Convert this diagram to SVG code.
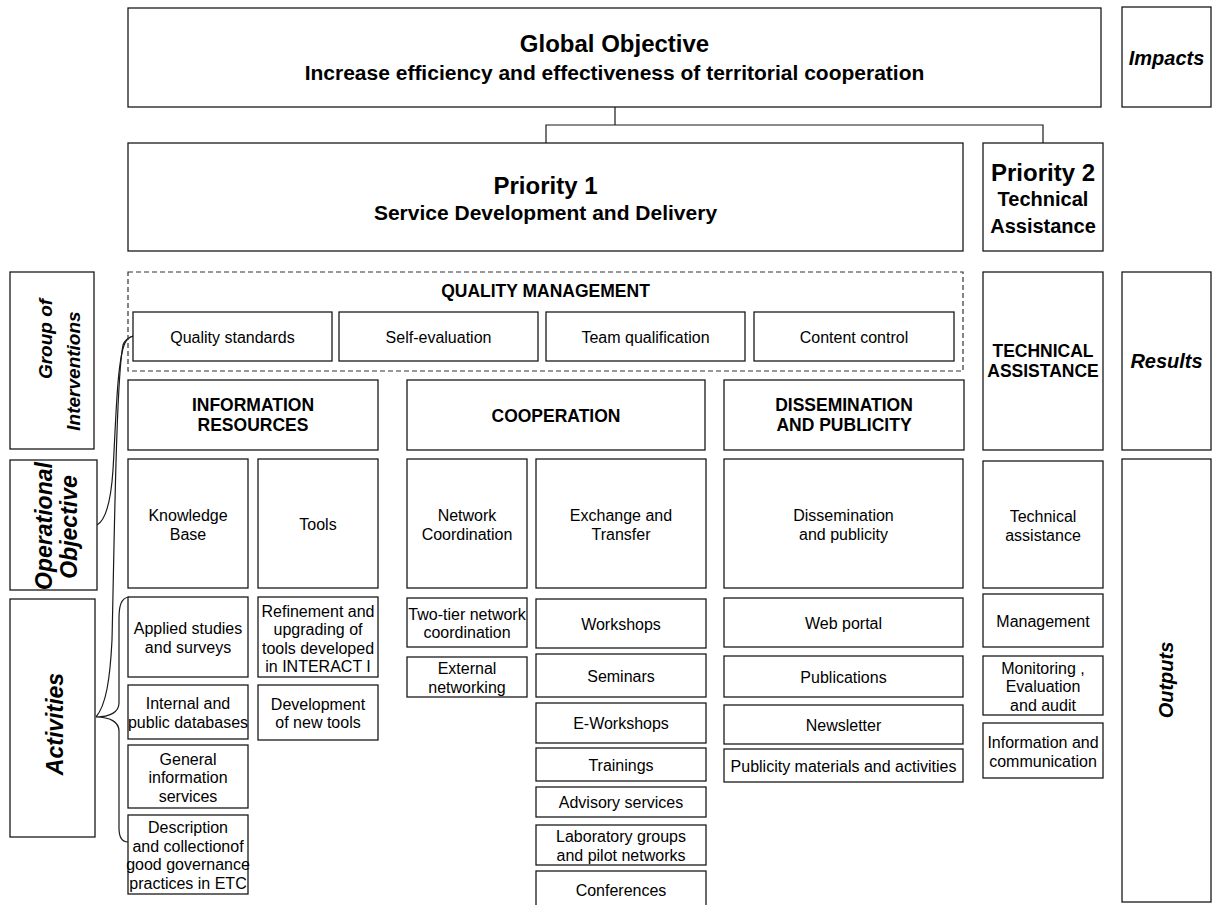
<svg xmlns="http://www.w3.org/2000/svg" width="1215" height="905" viewBox="0 0 1215 905">
<style>
.b{fill:#fff;stroke:#1a1a1a;stroke-width:1.3}
.d{fill:none;stroke:#333;stroke-width:1.2;stroke-dasharray:5,3}
text{font-family:"Liberation Sans",Arial,sans-serif;fill:#000;text-anchor:middle}
.t{font-size:16px}
.h{font-size:17.5px;font-weight:bold}
.l{font-size:20px;font-weight:bold;font-style:italic}
.c{fill:none;stroke:#1a1a1a;stroke-width:1.2}
</style>
<rect width="1215" height="905" fill="#fff"/>
<g id="connectors">
<path class="c" d="M615,107 V125 M546,143 V125 H1043 V143"/>
<path class="c" d="M97,525 C106,520 111,500 113,470 C116,420 117,360 125,343 C127,339 130,337 133,336"/>
<path class="c" d="M96,717 C106,705 110,680 112,640 C114,560 116,380 123,345 C125,339 130,337 133,336"/>
<path class="c" d="M129,597 C121,598 119,606 119,618 L119,703 C119,712 110,717 96,717 C110,717 119,722 119,731 L119,828 C119,837 122,842 128,842"/>
</g>
<g id="global"><rect class="b" x="128" y="8" width="973" height="99"/>
<text x="614.5" y="52" style="font-size:24px;font-weight:bold">Global Objective</text>
<text x="614.5" y="80" style="font-size:21px;font-weight:bold">Increase efficiency and effectiveness of territorial cooperation</text></g>
<g id="impacts"><rect class="b" x="1122" y="7" width="89" height="100"/><text class="l" x="1166.5" y="65">Impacts</text></g>
<g id="priority1"><rect class="b" x="128" y="143" width="835" height="108"/>
<text x="545.5" y="194" style="font-size:24px;font-weight:bold">Priority 1</text>
<text x="545.5" y="220" style="font-size:21px;font-weight:bold">Service Development and Delivery</text></g>
<g id="priority2"><rect class="b" x="983" y="143" width="120" height="108"/>
<text x="1043" y="181" style="font-size:24px;font-weight:bold">Priority 2</text>
<text x="1043" y="206" style="font-size:20px;font-weight:bold">Technical</text>
<text x="1043" y="233" style="font-size:20px;font-weight:bold">Assistance</text></g>
<g id="group-of-interventions"><rect class="b" x="10" y="272" width="84" height="177"/>
<text class="l" style="font-size:19px" transform="translate(52,339) rotate(-90)">Group of</text>
<text class="l" style="font-size:19px" transform="translate(80,371) rotate(-90)">Interventions</text></g>
<g id="operational-objective"><rect class="b" x="10" y="460" width="87" height="130"/>
<text class="l" style="font-size:23px" transform="translate(52,526) rotate(-90)">Operational</text>
<text class="l" style="font-size:23px" transform="translate(77,527) rotate(-90)">Objective</text></g>
<g id="activities"><rect class="b" x="10" y="599" width="85" height="238"/>
<text class="l" style="font-size:23px" transform="translate(63,724) rotate(-90)">Activities</text></g>
<g id="results"><rect class="b" x="1122" y="272" width="89" height="178"/><text class="l" x="1166.5" y="368">Results</text></g>
<g id="outputs"><rect class="b" x="1122" y="459" width="89" height="443"/>
<text class="l" transform="translate(1173,680) rotate(-90)">Outputs</text></g>
<g id="quality-management"><rect class="d" x="128" y="272" width="835" height="99"/>
<text class="h" x="545.5" y="297">QUALITY MANAGEMENT</text></g>
<g id="quality-standards"><rect class="b" x="133" y="312" width="199" height="49"/><text class="t" x="232.5" y="342.5">Quality standards</text></g>
<g id="self-evaluation"><rect class="b" x="339" y="312" width="199" height="49"/><text class="t" x="438.5" y="342.5">Self-evaluation</text></g>
<g id="team-qualification"><rect class="b" x="546" y="312" width="199" height="49"/><text class="t" x="645.5" y="342.5">Team qualification</text></g>
<g id="content-control"><rect class="b" x="754" y="312" width="200" height="49"/><text class="t" x="854" y="342.5">Content control</text></g>
<g id="information-resources"><rect class="b" x="128" y="380" width="250" height="70"/>
<text class="h" x="253" y="411">INFORMATION</text><text class="h" x="253" y="431">RESOURCES</text></g>
<g id="cooperation"><rect class="b" x="407" y="380" width="298" height="70"/><text class="h" x="556" y="421.5">COOPERATION</text></g>
<g id="dissemination-header"><rect class="b" x="724" y="380" width="240" height="70"/>
<text class="h" x="844" y="411">DISSEMINATION</text><text class="h" x="844" y="431">AND PUBLICITY</text></g>
<g id="technical-assistance-header"><rect class="b" x="983" y="272" width="120" height="178"/>
<text class="h" x="1043" y="357">TECHNICAL</text><text class="h" x="1043" y="377">ASSISTANCE</text></g>
<g id="knowledge-base"><rect class="b" x="128" y="459" width="120" height="129"/>
<text class="t" x="188" y="521">Knowledge</text><text class="t" x="188" y="539.5">Base</text></g>
<g id="tools"><rect class="b" x="258" y="459" width="120" height="129"/><text class="t" x="318" y="530">Tools</text></g>
<g id="network-coordination"><rect class="b" x="407" y="459" width="120" height="129"/>
<text class="t" x="467" y="521">Network</text><text class="t" x="467" y="539.5">Coordination</text></g>
<g id="exchange-transfer"><rect class="b" x="536" y="459" width="170" height="129"/>
<text class="t" x="621" y="521">Exchange and</text><text class="t" x="621" y="539.5">Transfer</text></g>
<g id="dissemination-publicity"><rect class="b" x="724" y="459" width="239" height="129"/>
<text class="t" x="843.5" y="521">Dissemination</text><text class="t" x="843.5" y="539.5">and publicity</text></g>
<g id="technical-assistance"><rect class="b" x="983" y="461" width="120" height="127"/>
<text class="t" x="1043" y="522">Technical</text><text class="t" x="1043" y="540.5">assistance</text></g>
<g id="applied-studies"><rect class="b" x="128" y="597" width="120" height="80"/>
<text class="t" x="188" y="634">Applied studies</text><text class="t" x="188" y="652.5">and surveys</text></g>
<g id="internal-databases"><rect class="b" x="128" y="685" width="120" height="54"/>
<text class="t" x="188" y="709">Internal and</text><text class="t" x="188" y="727.5">public databases</text></g>
<g id="general-information"><rect class="b" x="128" y="745" width="120" height="63"/>
<text class="t" x="188" y="764.5">General</text><text class="t" x="188" y="783">information</text><text class="t" x="188" y="801.5">services</text></g>
<g id="description-collection"><rect class="b" x="128" y="815" width="120" height="79"/>
<text class="t" x="188" y="833">Description</text><text class="t" x="188" y="851.5">and collectionof</text><text class="t" x="188" y="870">good governance</text><text class="t" x="188" y="888.5">practices in ETC</text></g>
<g id="refinement-tools"><rect class="b" x="258" y="597" width="120" height="80"/>
<text class="t" x="318" y="616.5">Refinement and</text><text class="t" x="318" y="635">upgrading of</text><text class="t" x="318" y="653.5">tools developed</text><text class="t" x="318" y="672">in INTERACT I</text></g>
<g id="new-tools"><rect class="b" x="258" y="685" width="120" height="55"/>
<text class="t" x="318" y="709.5">Development</text><text class="t" x="318" y="728">of new tools</text></g>
<g id="two-tier"><rect class="b" x="407" y="598" width="120" height="49"/>
<text class="t" x="467" y="619.5">Two-tier network</text><text class="t" x="467" y="638">coordination</text></g>
<g id="external-networking"><rect class="b" x="407" y="657" width="120" height="40"/>
<text class="t" x="467" y="674">External</text><text class="t" x="467" y="692.5">networking</text></g>
<g id="workshops"><rect class="b" x="536" y="599" width="170" height="49"/><text class="t" x="621" y="629.5">Workshops</text></g>
<g id="seminars"><rect class="b" x="536" y="654" width="170" height="43"/><text class="t" x="621" y="681.5">Seminars</text></g>
<g id="e-workshops"><rect class="b" x="536" y="703" width="170" height="40"/><text class="t" x="621" y="729">E-Workshops</text></g>
<g id="trainings"><rect class="b" x="536" y="748" width="170" height="33"/><text class="t" x="621" y="770.5">Trainings</text></g>
<g id="advisory"><rect class="b" x="536" y="787" width="170" height="30"/><text class="t" x="621" y="808">Advisory services</text></g>
<g id="laboratory"><rect class="b" x="536" y="825" width="170" height="40"/>
<text class="t" x="621" y="842">Laboratory groups</text><text class="t" x="621" y="860.5">and pilot networks</text></g>
<g id="conferences"><rect class="b" x="536" y="871" width="170" height="44"/><text class="t" x="621" y="896">Conferences</text></g>
<g id="web-portal"><rect class="b" x="724" y="598" width="239" height="49"/><text class="t" x="843.5" y="628.5">Web portal</text></g>
<g id="publications"><rect class="b" x="724" y="656" width="239" height="41"/><text class="t" x="843.5" y="682.5">Publications</text></g>
<g id="newsletter"><rect class="b" x="724" y="705" width="239" height="39"/><text class="t" x="843.5" y="730.5">Newsletter</text></g>
<g id="publicity-materials"><rect class="b" x="724" y="749" width="239" height="33"/><text class="t" x="843.5" y="771.5">Publicity materials and activities</text></g>
<g id="management"><rect class="b" x="983" y="594" width="120" height="53"/><text class="t" x="1043" y="626.5">Management</text></g>
<g id="monitoring"><rect class="b" x="983" y="656" width="120" height="59"/>
<text class="t" x="1043" y="673.5">Monitoring ,</text><text class="t" x="1043" y="692">Evaluation</text><text class="t" x="1043" y="710.5">and audit</text></g>
<g id="information-communication"><rect class="b" x="983" y="723" width="120" height="55"/>
<text class="t" x="1043" y="748">Information and</text><text class="t" x="1043" y="766.5">communication</text></g>
</svg>
